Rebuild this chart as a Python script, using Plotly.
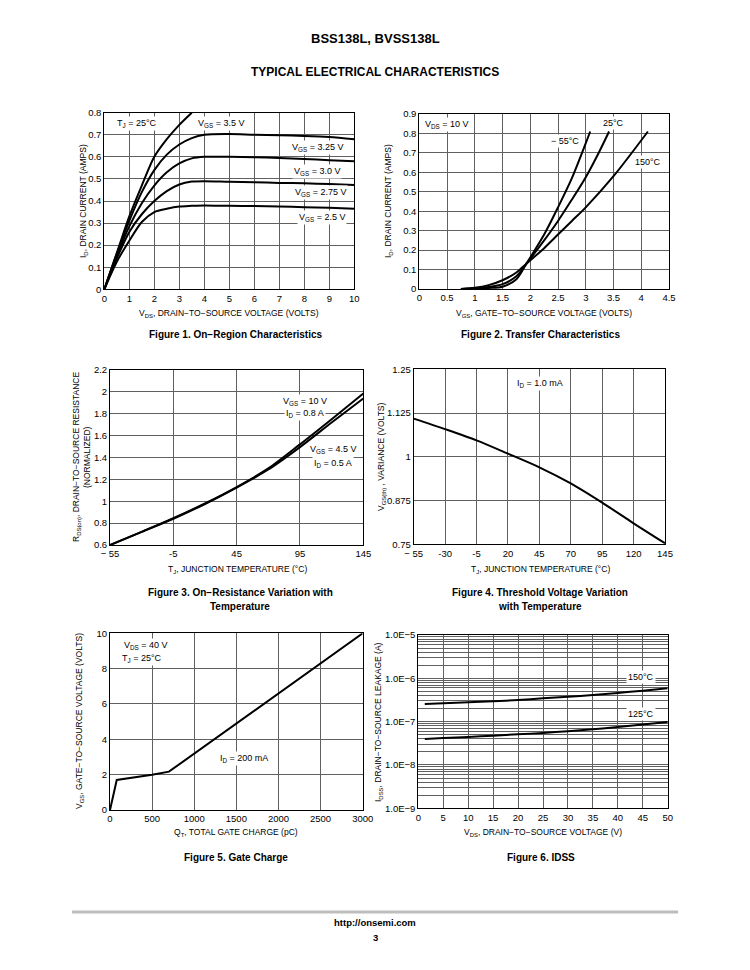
import plotly.graph_objects as go

# page is offset by the browser's 8px body margin, so the figure is sized to fit
OFF = 8
W, H = 750 - OFF, 970 - OFF
FONT = "Liberation Sans, Arial"
BOLD = "Liberation Sans, Arial"

# ---------------- data ----------------
# Figure 1: On-region characteristics
f1_vds = [0, 0.5, 1, 1.5, 2, 2.5, 3, 3.5, 4, 5, 6, 7, 8, 9, 10]
f1_vds_35 = [0, 0.5, 1, 1.5, 2, 2.5, 3, 3.5]
f1_id_35 = [0, 0.165, 0.33, 0.47, 0.60, 0.68, 0.745, 0.80]
f1_id_325 = [0, 0.16, 0.31, 0.44, 0.54, 0.61, 0.656, 0.685, 0.70, 0.703, 0.700, 0.698, 0.695, 0.69, 0.68]
f1_id_30 = [0, 0.15, 0.285, 0.39, 0.47, 0.53, 0.57, 0.593, 0.60, 0.60, 0.598, 0.595, 0.59, 0.585, 0.58]
f1_id_275 = [0, 0.14, 0.26, 0.34, 0.40, 0.445, 0.475, 0.488, 0.49, 0.487, 0.485, 0.482, 0.48, 0.477, 0.473]
f1_id_25 = [0, 0.125, 0.22, 0.305, 0.35, 0.365, 0.375, 0.378, 0.38, 0.378, 0.377, 0.375, 0.372, 0.369, 0.365]

# Figure 2: Transfer characteristics
f2_vgs_m55 = [0.75, 1.0, 1.25, 1.5, 1.75, 1.93, 2.25, 2.5, 2.75, 3.0, 3.08]
f2_id_m55 = [0, 0.002, 0.005, 0.012, 0.05, 0.13, 0.28, 0.42, 0.57, 0.75, 0.81]
f2_vgs_25 = [0.75, 1.0, 1.25, 1.5, 1.75, 1.93, 2.25, 2.5, 2.75, 3.0, 3.25, 3.42]
f2_id_25 = [0, 0.003, 0.01, 0.025, 0.065, 0.13, 0.25, 0.35, 0.46, 0.575, 0.71, 0.81]
f2_vgs_150 = [0.75, 1.0, 1.25, 1.5, 1.75, 1.93, 2.25, 2.5, 2.75, 3.0, 3.5, 4.12]
f2_id_150 = [0, 0.006, 0.02, 0.045, 0.085, 0.13, 0.21, 0.28, 0.35, 0.42, 0.58, 0.81]

# Figure 3: On-resistance vs temperature
f3_tj = [-55, -30, -5, 20, 45, 70, 95, 120, 145]
f3_r_10v = [0.6, 0.72, 0.845, 0.98, 1.13, 1.30, 1.52, 1.75, 1.985]
f3_r_45v = [0.6, 0.72, 0.84, 0.975, 1.125, 1.29, 1.495, 1.72, 1.94]

# Figure 4: Threshold voltage vs temperature
f4_tj = [-55, -30, -5, 20, 45, 70, 95, 120, 145]
f4_vth = [1.109, 1.079, 1.047, 1.009, 0.97, 0.924, 0.869, 0.81, 0.753]

# Figure 5: Gate charge
f5_qt = [0, 80, 500, 700, 3000]
f5_vgs = [0, 1.7, 2.0, 2.17, 10]

# Figure 6: IDSS
f6_vds = [1.3, 5, 10, 15, 20, 25, 30, 35, 40, 45, 50]
f6_i_150 = [2.56e-7, 2.65e-7, 2.8e-7, 2.95e-7, 3.15e-7, 3.45e-7, 3.75e-7, 4.1e-7, 4.6e-7, 5.2e-7, 5.9e-7]
f6_i_125 = [4.0e-8, 4.2e-8, 4.45e-8, 4.75e-8, 5.1e-8, 5.5e-8, 6.0e-8, 6.7e-8, 7.5e-8, 8.6e-8, 9.8e-8]

# tick labels
f3_xticks = [-55, -5, 45, 95, 145]
f3_xtext = ["− 55", "-5", "45", "95", "145"]
f4_xticks = [-55, -30, -5, 20, 45, 70, 95, 120, 145]
f4_xtext = ["− 55", "-30", "-5", "20", "45", "70", "95", "120", "145"]
f4_yticks = [0.75, 0.875, 1, 1.125, 1.25]
f4_ytext = ["0.75", "0.875", "1", "1.125", "1.25"]
f6_yticks = [1e-9, 1e-8, 1e-7, 1e-6, 1e-5]
f6_ytext = ["1.0E−9", "1.0E−8", "1.0E−7", "1.0E−6", "1.0E−5"]
f6_minor = [k * 10.0 ** e for e in range(-9, -5) for k in range(2, 10)]

# ---------------- helpers ----------------
def px(x):
    return (x - OFF) / W

def py(y):
    return 1 - (y - OFF) / H

fig = go.Figure()

def add(x, y, n, spline=True):
    fig.add_trace(go.Scatter(
        x=x, y=y, mode="lines", xaxis=f"x{n}", yaxis=f"y{n}",
        line=dict(color="black", width=2, shape="spline" if spline else "linear", smoothing=0.8),
        showlegend=False, hoverinfo="skip"))

add(f1_vds_35, f1_id_35, 1)
add(f1_vds, f1_id_325, 1)
add(f1_vds, f1_id_30, 1)
add(f1_vds, f1_id_275, 1)
add(f1_vds, f1_id_25, 1)
add(f2_vgs_m55, f2_id_m55, 2)
add(f2_vgs_25, f2_id_25, 2)
add(f2_vgs_150, f2_id_150, 2)
add(f3_tj, f3_r_10v, 3)
add(f3_tj, f3_r_45v, 3)
add(f4_tj, f4_vth, 4)
add(f5_qt, f5_vgs, 5, spline=False)
add(f6_vds, f6_i_150, 6)
add(f6_vds, f6_i_125, 6)

GRID = "#606060"
TICKF = dict(family=FONT, size=9.5, color="black")

def axis(dom, anchor, **kw):
    d = dict(domain=dom, anchor=anchor, showgrid=True, gridcolor=GRID, gridwidth=1,
             showline=True, linecolor="black", linewidth=1, mirror=True,
             ticks="", zeroline=False, tickfont=TICKF, fixedrange=True,
             automargin=False)
    d.update(kw)
    return d

boxes = {
    1: (104.3, 354.3, 112.7, 289.3),
    2: (419.3, 669.0, 114.0, 289.0),
    3: (110.0, 363.3, 370.0, 545.0),
    4: (413.7, 665.0, 369.3, 544.3),
    5: (110.0, 362.7, 633.3, 810.0),
    6: (418.3, 667.7, 635.0, 808.3),
}

def xd(n):
    b = boxes[n]
    return [px(b[0]), px(b[1])]

def yd(n):
    b = boxes[n]
    return [py(b[3]), py(b[2])]

layout = dict(
    width=W, height=H, margin=dict(l=0, r=0, t=0, b=0, pad=0, autoexpand=False),
    paper_bgcolor="white", plot_bgcolor="white", showlegend=False,
    xaxis=axis(xd(1), "y", range=[0, 10], dtick=1, tick0=0),
    yaxis=axis(yd(1), "x", range=[0, 0.8], dtick=0.1, tick0=0),
    xaxis2=axis(xd(2), "y2", range=[0, 4.5], dtick=0.5, tick0=0),
    yaxis2=axis(yd(2), "x2", range=[0, 0.9], dtick=0.1, tick0=0),
    xaxis3=axis(xd(3), "y3", range=[-55, 145], tickvals=f3_xticks, ticktext=f3_xtext),
    yaxis3=axis(yd(3), "x3", range=[0.6, 2.2], dtick=0.2, tick0=0.6),
    xaxis4=axis(xd(4), "y4", range=[-55, 145], tickvals=f4_xticks, ticktext=f4_xtext),
    yaxis4=axis(yd(4), "x4", range=[0.75, 1.25], tickvals=f4_yticks, ticktext=f4_ytext),
    xaxis5=axis(xd(5), "y5", range=[0, 3000], dtick=500, tick0=0),
    yaxis5=axis(yd(5), "x5", range=[0, 10], dtick=2, tick0=0),
    xaxis6=axis(xd(6), "y6", range=[0, 50], dtick=5, tick0=0),
    yaxis6=axis(yd(6), "x6", type="log", range=[-9, -5], tickvals=f6_yticks, ticktext=f6_ytext,
                minor=dict(tickvals=f6_minor, showgrid=True, gridcolor=GRID, gridwidth=1, ticks="")),
)
fig.update_layout(**layout)

ann = []

def text(x, y, t, size=9, bold=False, bg=None, angle=0, xanchor="center", family=None):
    d = dict(x=px(x), y=py(y), xref="paper", yref="paper", text=t, showarrow=False,
             xanchor=xanchor, yanchor="middle", textangle=angle,
             font=dict(family=family or (BOLD if bold else FONT), size=size, color="black"))
    if bg:
        d.update(bgcolor=bg, borderpad=1)
    ann.append(d)

# Page header & footer
text(375, 38, "<b>BSS138L, BVSS138L</b>", size=13, family=BOLD)
text(375, 72, "<b>TYPICAL ELECTRICAL CHARACTERISTICS</b>", size=12, family=BOLD)
text(375, 922, "<b>http://onsemi.com</b>", size=9.5, family=BOLD)
text(375, 937, "<b>3</b>", size=9.5, family=BOLD)

CAP = 10
AX = 8.5
WB = "white"

# Figure 1
text(137, 123, "T<sub>J</sub> = 25°C", bg=WB)
text(221, 123, "V<sub>GS</sub> = 3.5 V", bg=WB)
text(317, 147, "V<sub>GS</sub> = 3.25 V", bg=WB)
text(317, 171, "V<sub>GS</sub> = 3.0 V", bg=WB)
text(320, 193, "V<sub>GS</sub> = 2.75 V", bg=WB)
text(322, 218, "V<sub>GS</sub> = 2.5 V", bg=WB)
text(229, 313, "V<sub>DS</sub>, DRAIN−TO−SOURCE VOLTAGE (VOLTS)", size=AX)
text(84, 201, "I<sub>D</sub>, DRAIN CURRENT (AMPS)", angle=-90, size=AX)
text(236, 334, "<b>Figure 1. On−Region Characteristics</b>", size=CAP, family=BOLD)

# Figure 2
text(447, 124, "V<sub>DS</sub> = 10 V", bg=WB)
text(613, 123, "25°C", bg=WB)
text(565, 141, "− 55°C", bg=WB)
text(648, 162, "150°C", bg=WB)
text(544, 313, "V<sub>GS</sub>, GATE−TO−SOURCE VOLTAGE (VOLTS)", size=AX)
text(389, 201, "I<sub>D</sub>, DRAIN CURRENT (AMPS)", angle=-90, size=AX)
text(540, 334, "<b>Figure 2. Transfer Characteristics</b>", size=CAP, family=BOLD)

# Figure 3
text(305, 402, "V<sub>GS</sub> = 10 V", bg=WB)
text(305, 413, "I<sub>D</sub> = 0.8 A", bg=WB)
text(333, 450, "V<sub>GS</sub> = 4.5 V", bg=WB)
text(333, 463, "I<sub>D</sub> = 0.5 A", bg=WB)
text(237, 569, "T<sub>J</sub>, JUNCTION TEMPERATURE (°C)", size=AX)
text(76, 457, "R<sub>DS(on)</sub>, DRAIN−TO−SOURCE RESISTANCE", angle=-90, size=AX)
text(87, 457, "(NORMALIZED)", angle=-90, size=AX)
text(240, 592, "<b>Figure 3. On−Resistance Variation with</b>", size=CAP, family=BOLD)
text(240, 606, "<b>Temperature</b>", size=CAP, family=BOLD)

# Figure 4
text(540, 383, "I<sub>D</sub> = 1.0 mA", bg=WB)
text(540, 569, "T<sub>J</sub>, JUNCTION TEMPERATURE (°C)", size=AX)
text(381, 457, "V<sub>GS(th)</sub> , VARIANCE (VOLTS)", angle=-90, size=AX)
text(540, 592, "<b>Figure 4. Threshold Voltage Variation</b>", size=CAP, family=BOLD)
text(540, 606, "<b>with Temperature</b>", size=CAP, family=BOLD)

# Figure 5
text(146, 645, "V<sub>DS</sub> = 40 V", bg=WB)
text(142, 658, "T<sub>J</sub> = 25°C", bg=WB)
text(244, 758, "I<sub>D</sub> = 200 mA", bg=WB)
text(236, 832, "Q<sub>T</sub>, TOTAL GATE CHARGE (pC)", size=AX)
text(79, 721, "V<sub>GS</sub>, GATE−TO−SOURCE VOLTAGE (VOLTS)", angle=-90, size=AX)
text(236, 857, "<b>Figure 5. Gate Charge</b>", size=CAP, family=BOLD)

# Figure 6
text(641, 677, "150°C", bg=WB)
text(641, 714, "125°C", bg=WB)
text(543, 832, "V<sub>DS</sub>, DRAIN−TO−SOURCE VOLTAGE (V)", size=AX)
text(378, 722, "I<sub>DSS</sub>, DRAIN−TO−SOURCE LEAKAGE (A)", angle=-90, size=AX)
text(541, 857, "<b>Figure 6. IDSS</b>", size=CAP, family=BOLD)

fig.update_layout(annotations=ann)

# footer rule
fig.add_shape(type="line", xref="paper", yref="paper",
              x0=px(72), x1=px(678), y0=py(912), y1=py(912),
              line=dict(color="#bdbdbd", width=3))

fig.write_html("out.html")
